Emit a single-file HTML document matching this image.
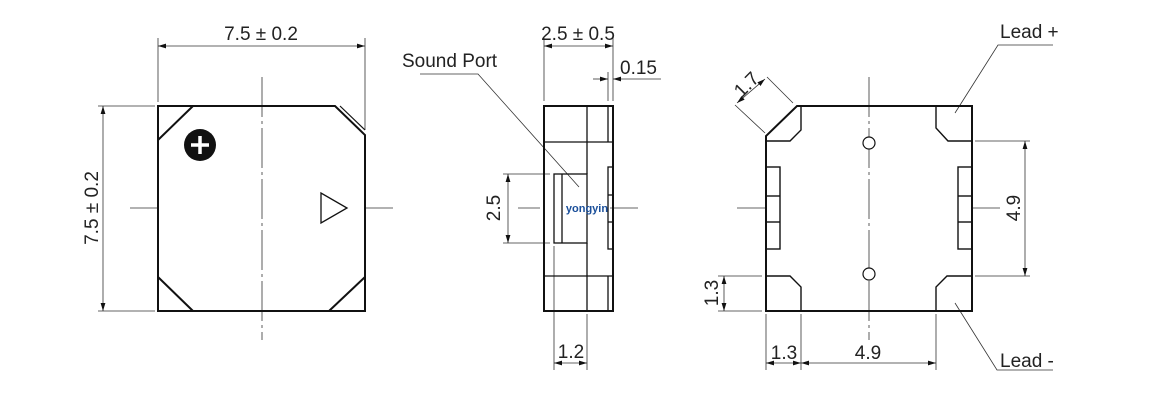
<!DOCTYPE html>
<html><head><meta charset="utf-8"><style>
html,body{margin:0;padding:0;background:#fff;width:1175px;height:414px;overflow:hidden}
text{font-family:"Liberation Sans",sans-serif;font-size:19px;fill:#222}
</style></head><body>
<svg width="1175" height="414" viewBox="0 0 1175 414" xmlns="http://www.w3.org/2000/svg">
<defs>
<marker id="a" viewBox="0 0 10 10" refX="10" refY="5" markerWidth="8" markerHeight="8" orient="auto-start-reverse" markerUnits="userSpaceOnUse"><path d="M0,2 L10,5 L0,8 z" fill="#111"/></marker>
</defs>
<g stroke="#333" stroke-width="0.8" fill="none">
<line x1="158" y1="38" x2="158" y2="102"/><line x1="365" y1="38" x2="365" y2="130"/>
<line x1="158" y1="46" x2="365" y2="46" marker-start="url(#a)" marker-end="url(#a)"/>
<line x1="98" y1="106" x2="155" y2="106"/><line x1="98" y1="311" x2="155" y2="311"/>
<line x1="103" y1="106" x2="103" y2="311" marker-start="url(#a)" marker-end="url(#a)"/>
<line x1="130" y1="208" x2="158" y2="208"/><line x1="365" y1="208" x2="393" y2="208"/>
<line x1="262" y1="77" x2="262" y2="340" stroke-dasharray="40,4,3,4"/>
<line x1="544" y1="38" x2="544" y2="101"/><line x1="613" y1="38" x2="613" y2="101"/>
<line x1="608" y1="72" x2="608" y2="101"/>
<line x1="544" y1="46" x2="613" y2="46" marker-start="url(#a)" marker-end="url(#a)"/>
<line x1="593" y1="79" x2="608" y2="79" marker-end="url(#a)"/>
<line x1="661" y1="79" x2="613" y2="79" marker-end="url(#a)"/>
<line x1="503" y1="174" x2="550" y2="174"/><line x1="503" y1="243" x2="550" y2="243"/>
<line x1="508" y1="174" x2="508" y2="243" marker-start="url(#a)" marker-end="url(#a)"/>
<line x1="518" y1="208" x2="540" y2="208"/><line x1="610" y1="208" x2="638" y2="208"/>
<line x1="554" y1="246" x2="554" y2="370"/><line x1="587" y1="314" x2="587" y2="370"/>
<line x1="554" y1="363" x2="587" y2="363" marker-start="url(#a)" marker-end="url(#a)"/>
<polyline points="420,74 478,74 579,187"/>
<line x1="869" y1="77" x2="869" y2="340" stroke-dasharray="40,4,3,4"/>
<line x1="737" y1="208" x2="766" y2="208"/><line x1="972" y1="208" x2="1000" y2="208"/>
<line x1="975" y1="141" x2="1030" y2="141"/><line x1="975" y1="276" x2="1030" y2="276"/>
<line x1="1025" y1="141" x2="1025" y2="276" marker-start="url(#a)" marker-end="url(#a)"/>
<line x1="766" y1="314" x2="766" y2="370"/><line x1="801" y1="314" x2="801" y2="370"/><line x1="936" y1="314" x2="936" y2="370"/>
<line x1="766" y1="363" x2="801" y2="363" marker-start="url(#a)" marker-end="url(#a)"/>
<line x1="801" y1="363" x2="936" y2="363" marker-start="url(#a)" marker-end="url(#a)"/>
<line x1="718" y1="276" x2="762" y2="276"/><line x1="718" y1="311" x2="762" y2="311"/>
<line x1="724" y1="276" x2="724" y2="311" marker-start="url(#a)" marker-end="url(#a)"/>
<line x1="765" y1="133" x2="735" y2="105"/><line x1="793" y1="103" x2="767" y2="77"/>
<line x1="737" y1="103" x2="765" y2="79" marker-start="url(#a)" marker-end="url(#a)"/>
<polyline points="1053,45 998,45 955,113"/>
<polyline points="955,303 997,370 1053,370"/>
</g>
<g stroke="#111" stroke-width="2" fill="none">
<polygon points="158,106 335,106 365,135 365,311 158,311"/>
<line x1="158" y1="140" x2="193" y2="106"/>
<line x1="158" y1="277" x2="193" y2="311"/>
<line x1="365" y1="277" x2="329" y2="311"/>
<line x1="340" y1="106" x2="365" y2="130" stroke-width="1.2"/>
<polygon points="321,193 321,223 347,208" stroke-width="1.3"/>
<rect x="544" y="106" width="69" height="205"/>
<g stroke-width="1.3">
<line x1="587" y1="106" x2="587" y2="174"/><line x1="587" y1="243" x2="587" y2="311"/>
<line x1="544" y1="142" x2="613" y2="142"/><line x1="544" y1="276" x2="613" y2="276"/>
<line x1="608" y1="106" x2="608" y2="142"/><line x1="608" y1="276" x2="608" y2="311"/>
<rect x="608" y="167" width="5" height="82"/>
<line x1="608" y1="195" x2="613" y2="195"/><line x1="608" y1="222" x2="613" y2="222"/>
<rect x="554" y="174" width="33" height="69"/>
<line x1="562" y1="174" x2="562" y2="243"/>
</g>
<polygon points="797,106 972,106 972,311 766,311 766,136"/>
<g stroke-width="1.4">
<polyline points="801,106 801,130 790,141 766,141"/>
<polyline points="936,106 936,128 948,141 972,141"/>
<polyline points="766,276 790,276 801,287 801,311"/>
<polyline points="936,311 936,287 947,276 972,276"/>
<rect x="766" y="167" width="14" height="82"/><line x1="766" y1="196" x2="780" y2="196"/><line x1="766" y1="222" x2="780" y2="222"/>
<rect x="958" y="167" width="14" height="82"/><line x1="958" y1="196" x2="972" y2="196"/><line x1="958" y1="222" x2="972" y2="222"/>
</g>
<circle cx="869" cy="143" r="6" stroke-width="1.2" fill="#fff"/>
<circle cx="869" cy="274" r="6" stroke-width="1.2" fill="#fff"/>
</g>
<circle cx="200" cy="145" r="16" fill="#111"/>
<path d="M200,136 V154 M191,145 H209" stroke="#fff" stroke-width="3.5"/>
<text x="261" y="40" text-anchor="middle">7.5 ± 0.2</text>
<text transform="translate(98,208) rotate(-90)" text-anchor="middle">7.5 ± 0.2</text>
<text x="578" y="40" text-anchor="middle">2.5 ± 0.5</text>
<text x="620" y="74">0.15</text>
<text x="402" y="67">Sound Port</text>
<text transform="translate(500,208) rotate(-90)" text-anchor="middle">2.5</text>
<text x="571" y="358" text-anchor="middle">1.2</text>
<text x="587" y="212" text-anchor="middle" style="font-size:11px;font-weight:bold;fill:#1a4f9a">yongyin</text>
<text x="1000" y="38">Lead +</text>
<text x="1000" y="367">Lead -</text>
<text transform="translate(1020,208) rotate(-90)" text-anchor="middle">4.9</text>
<text x="784" y="359" text-anchor="middle">1.3</text>
<text x="868" y="359" text-anchor="middle">4.9</text>
<text transform="translate(718,293) rotate(-90)" text-anchor="middle">1.3</text>
<text transform="translate(751,89) rotate(-45)" text-anchor="middle">1.7</text>
</svg>
</body></html>
